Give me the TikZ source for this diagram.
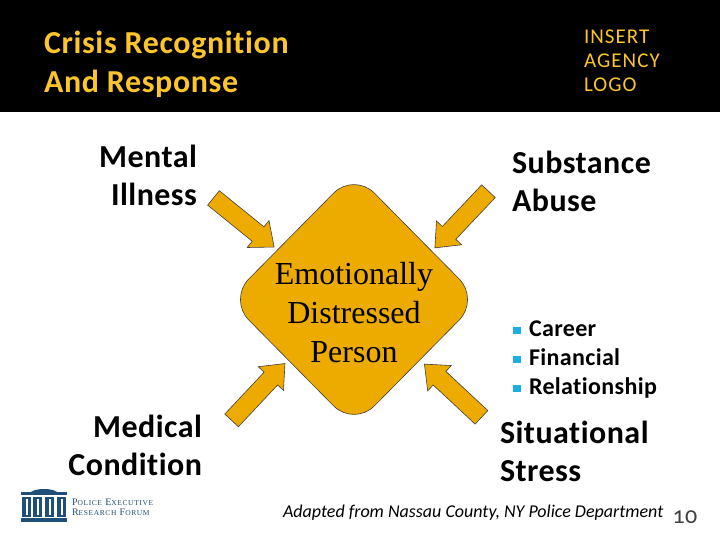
\documentclass[tikz,border=0pt]{standalone}
\usepackage{fontspec}
\setmainfont[Numbers=OldStyle,Ligatures=CommonOff,LetterSpace=1.5]{Carlito}
\newfontfamily\serifface{Liberation Serif}
\newfontfamily\forumface[LetterSpace=8]{Liberation Serif}
\usepackage{xcolor}
\usetikzlibrary{shapes.geometric,shapes.arrows,positioning}
\definecolor{gold}{HTML}{EDAB00}
\definecolor{titlegold}{HTML}{FBC52B}
\definecolor{navy}{HTML}{1F4E79}
\definecolor{bulletblue}{HTML}{1CADE4}
\newcommand{\sqbullet}{\textcolor{bulletblue}{\raisebox{2.5pt}{\rule{7.5pt}{7.5pt}}}\hspace{8.5pt}}

\begin{document}
\begin{tikzpicture}[
  x=1pt,y=-1pt,
  every node/.style={inner sep=0pt,outer sep=0pt},
  headtext/.style={font=\fontsize{32}{39}\selectfont\bfseries\addfontfeature{LetterSpace=2},text=titlegold,align=left,anchor=west},
  logotext/.style={font=\fontsize{21}{24}\selectfont\addfontfeature{LetterSpace=5},text=titlegold,align=left,anchor=west},
  bigtext/.style={font=\fontsize{32}{38}\selectfont\bfseries},
  blockarrow/.style={single arrow,draw=black!75,fill=gold,line width=0.6pt,inner ysep=9pt,
    minimum height=78pt,minimum width=34pt,single arrow head extend=8pt,
    single arrow tip angle=80}
]
\useasboundingbox (0,0) rectangle (720,540);
\fill[white] (0,0) rectangle (720,540);
\fill[black] (0,0) rectangle (720,112);

\node (title) [headtext] at (44,64) {Crisis Recognition\\And Response};
\node (agency) [logotext] at (584,61) {INSERT\\AGENCY\\LOGO};

\node (person) [diamond,draw=black!75,fill=gold,line width=0.6pt,rounded corners=29pt,
  minimum width=251pt,minimum height=254pt] at (354,299.5) {};
\node (personlabel) [font=\serifface\fontsize{32}{39}\selectfont,align=center] at (354,313)
  {Emotionally\\Distressed\\Person};

\node (mental) [bigtext,align=right,anchor=east] at (197,175) {Mental\\Illness};
\node (substance) [bigtext,align=left,anchor=west] at (512,181) {Substance\\Abuse};
\node (medical) [bigtext,align=right,anchor=east] at (202,445) {Medical\\Condition};
\node (situational) [bigtext,align=left,anchor=west] at (500,451) {Situational\\Stress};

\node (stresslist) [font=\fontsize{24}{29}\selectfont\bfseries,align=left,anchor=west] at (513,360)
  {\sqbullet Career\\\sqbullet Financial\\\sqbullet Relationship};

\node (arrowtl) [blockarrow,rotate=-39] at (239.5,219) {};
\node (arrowtr) [blockarrow,rotate=226.6] at (465.5,215.5) {};
\node (arrowbl) [blockarrow,rotate=46.8] at (254.5,396) {};
\node (arrowbr) [blockarrow,rotate=137] at (457,394.5) {};

\node (source) [font=\fontsize{18}{22}\selectfont\itshape\addfontfeature{LetterSpace=0},anchor=west] at (283,513)
  {Adapted from Nassau County, NY Police Department};
\node (pagenum) [font=\fontsize{24}{28}\selectfont,text=black!75,anchor=center] at (685,517) {10};

\fill[navy] (21,518) rectangle (67,522);
\fill[navy] (21,492) rectangle (67,495);
\fill[navy] (31,492) .. controls (36,488) and (52,488) .. (57,492) -- cycle;
\foreach \colx in {22,33,45,57} {
  \fill[navy] (\colx,497) rectangle ++(9,20);
  \fill[white] (\colx+3.5,499) rectangle ++(2,16);
}
\node (forumtop) [font=\forumface\fontsize{10}{11}\selectfont,text=navy,anchor=west] at (72,502)
  {P{\fontsize{7.5}{8}\selectfont OLICE} E{\fontsize{7.5}{8}\selectfont XECUTIVE}};
\node (forumbot) [font=\forumface\fontsize{10}{11}\selectfont,text=navy,anchor=west] at (72,512.5)
  {R{\fontsize{7.5}{8}\selectfont ESEARCH} F{\fontsize{7.5}{8}\selectfont ORUM}};
\end{tikzpicture}
\end{document}
